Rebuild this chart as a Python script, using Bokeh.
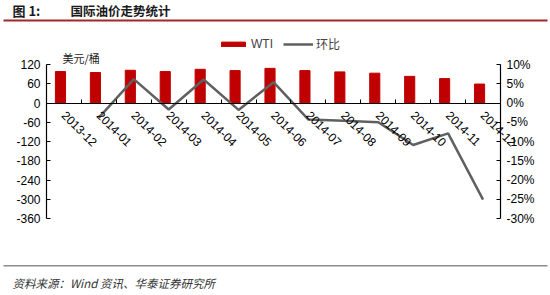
from bokeh.plotting import figure
from bokeh.models import (Range1d, LinearAxis, FixedTicker,
                          Label, BoxAnnotation, Legend, LegendItem)
from bokeh.embed import file_html
from bokeh.resources import INLINE

months = ["2013-12", "2014-01", "2014-02", "2014-03", "2014-04", "2014-05", "2014-06",
          "2014-07", "2014-08", "2014-09", "2014-10", "2014-11", "2014-12"]
wti = [98, 95, 102, 98, 105, 101, 108, 101, 97, 93, 83, 76, 59]
mom_months = months[1:]
mom_pct = [-3.8, 6.2, -1.7, 6.1, -1.8, 5.4, -4.3, -4.6, -5.0, -10.9, -7.9, -25.1]
left_ticks = [120, 60, 0, -60, -120, -180, -240, -300, -360]
right_ticks = [10, 5, 0, -5, -10, -15, -20, -25, -30]

TXT = "Liberation Sans"
CJK = "Noto Sans CJK SC"

W, H = 550, 295
# plot area (pixels) inside the page
AX_L, AX_R, AX_T, AX_B = 46, 500, 64, 218
n = len(months)
lo, hi = left_ticks[-1], left_ticks[0]
plo, phi = right_ticks[-1], right_ticks[0]


def span(a, b, p0, p1, total):
    """range that maps value a to pixel p0 and b to pixel p1 on a 0..total canvas"""
    k = (b - a) / (p1 - p0)
    return a - p0 * k, a + (total - p0) * k


xr = span(0, n, AX_L, AX_R, W)
yr = span(hi, lo, AX_T, AX_B, H)
pr = span(phi, plo, AX_T, AX_B, H)

p = figure(width=W, height=H, output_backend="svg", toolbar_location=None,
           x_range=Range1d(*xr), y_range=Range1d(yr[1], yr[0]),
           min_border=0, x_axis_location=None, y_axis_location=None)
p.outline_line_color = None
p.xgrid.grid_line_color = None
p.ygrid.grid_line_color = None
p.extra_y_ranges = {"pct": Range1d(pr[1], pr[0]), "py": Range1d(H, 0)}
p.extra_x_ranges = {"px": Range1d(0, W)}

centers = {m: i + 0.5 for i, m in enumerate(months)}

bars = p.vbar(x=[centers[m] - 0.1 for m in months], top=wti, width=0.29,
              color="#C00000")
line = p.line(x=[centers[m] for m in mom_months], y=mom_pct, y_range_name="pct",
              line_color="#606060", line_width=2.5)

ly = LinearAxis(fixed_location=0, bounds=(lo, hi), ticker=FixedTicker(ticks=left_ticks),
                major_label_overrides={t: str(t) for t in left_ticks})
ry = LinearAxis(fixed_location=n, bounds=(plo, phi), y_range_name="pct",
                ticker=FixedTicker(ticks=right_ticks),
                major_label_overrides={t: f"{t}%" for t in right_ticks})
for ax in (ly, ry):
    ax.major_tick_in = 4
    ax.major_tick_out = 0
    ax.minor_tick_line_color = None
    ax.axis_line_color = "#000000"
    ax.axis_line_width = 1.2
    ax.major_tick_line_color = "#000000"
    ax.major_label_text_font = TXT
    ax.major_label_text_font_size = "12px"
    ax.major_label_text_color = "#000000"
    ax.major_label_standoff = 6
p.add_layout(ly, "left")
p.add_layout(ry, "right")

# category axis at y = 0: labels at slot centres, small ticks at slot boundaries
cx = LinearAxis(fixed_location=0, bounds=(0, n),
                ticker=FixedTicker(ticks=list(centers.values()), minor_ticks=list(range(n + 1))),
                major_label_overrides={v: m for m, v in centers.items()},
                major_label_orientation=-0.785398)
cx.major_tick_line_color = None
cx.minor_tick_in = 4
cx.minor_tick_out = 0
cx.minor_tick_line_color = "#000000"
cx.axis_line_color = "#000000"
cx.axis_line_width = 1.2
cx.major_label_text_font = TXT
cx.major_label_text_font_size = "12px"
cx.major_label_text_color = "#000000"
cx.major_label_standoff = 4
p.add_layout(cx, "below")

legend = Legend(items=[LegendItem(label="WTI", renderers=[bars]),
                       LegendItem(label="环比", renderers=[line])],
                orientation="horizontal", location=(218, H - 52),
                glyph_width=30, glyph_height=6, label_standoff=3, spacing=10,
                padding=0, margin=0, border_line_color=None, background_fill_alpha=0,
                label_text_font=f"{TXT}, {CJK}", label_text_font_size="12px",
                label_height=12)
p.add_layout(legend, "center")


def label(x, y, text, **kw):
    p.add_layout(Label(x=x, y=y, x_range_name="px", y_range_name="py", text=text,
                       text_baseline="middle", **kw))


def rule(x0, x1, y0, y1, color):
    p.add_layout(BoxAnnotation(left=x0, right=x1, top=y0, bottom=y1,
                               x_range_name="px", y_range_name="py",
                               fill_color=color, fill_alpha=1, line_color=None))


label(12, 10, "图 1:", text_font=CJK, text_font_style="bold", text_font_size="13px",
      text_color="#1A1A1A")
label(70, 10, "国际油价走势统计", text_font=CJK, text_font_style="bold",
      text_font_size="12.5px", text_color="#1A1A1A")
label(62, 57, "美元/桶", text_font=CJK, text_font_size="11px", text_color="#222222")
label(12, 282, "资料来源：Wind 资讯、华泰证券研究所", text_font=CJK,
      text_font_style="italic", text_font_size="11.5px", text_color="#333333")
rule(3, 547, 19, 21, "#A0282A")
rule(3, 547, 264.5, 266, "#8C8C8C")

open("out.html", "w").write(file_html(p, INLINE))
